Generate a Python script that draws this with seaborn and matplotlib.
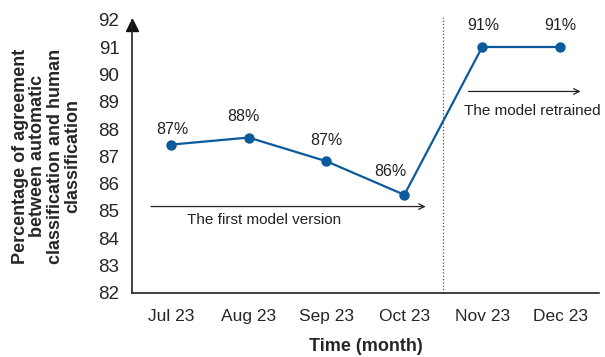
import pandas as pd
import matplotlib.pyplot as plt
import seaborn as sns

months = ["Jul 23", "Aug 23", "Sep 23", "Oct 23", "Nov 23", "Dec 23"]
agreement = [87.43, 87.69, 86.82, 85.59, 91.01, 91.01]
labels = ["87%", "88%", "87%", "86%", "91%", "91%"]

df = pd.DataFrame({"month": months, "agreement": agreement, "pos": range(len(months))})

sns.set_style("white")
plt.rcParams['font.family'] = ['Liberation Sans', 'DejaVu Sans']

fig, ax = plt.subplots(figsize=(6.05, 3.57), dpi=100)
blue = "#0b5a9c"
sns.lineplot(data=df, x="pos", y="agreement", color=blue, marker="o",
             markersize=7.5, markeredgewidth=0, linewidth=1.6, ax=ax)

# percentage labels above points (offsets in points)
offsets = [(1, 11), (-3.6, 15), (0, 15), (-10, 16.5), (0.5, 15.5), (0, 15.5)]
for i, (v, lab) in enumerate(zip(agreement, labels)):
    ax.annotate(lab, (i, v), xytext=offsets[i], textcoords="offset points",
                ha="center", va="center", fontsize=11.5, color="#222222")

# period arrows
ax.annotate("", xy=(3.31, 85.16), xytext=(-0.29, 85.16),
            arrowprops=dict(arrowstyle="->", color="#222222", lw=0.9))
ax.text(1.2, 84.65, "The first model version", ha="center", va="center", fontsize=11, color="#222222")
ax.annotate("", xy=(5.30, 89.38), xytext=(3.79, 89.38),
            arrowprops=dict(arrowstyle="->", color="#222222", lw=0.9))
ax.text(4.64, 88.68, "The model retrained", ha="center", va="center", fontsize=11, color="#222222")

# retraining boundary
ax.axvline(3.5, ymin=0, ymax=1.01, color="#555555", linestyle=":", linewidth=0.9, clip_on=False)

ax.set_xlim(-0.5, 5.5)
ax.set_ylim(82, 92)
ax.set_yticks(range(82, 93))
ax.set_xticks([i - 0.5 for i in range(len(months) + 1)])
ax.set_xticklabels([])
ax.set_xticks(range(len(months)), minor=True)
ax.set_xticklabels(months, minor=True, fontsize=12.5)
ax.tick_params(axis="x", which="major", direction="out", length=5, width=1.2, color="#222222")
ax.tick_params(axis="x", which="minor", length=0, pad=12)
ax.tick_params(axis="y", direction="out", length=5, width=1, color="#222222", labelsize=13.5, pad=4)

sns.despine(ax=ax)
for s in ["left", "bottom"]:
    ax.spines[s].set_linewidth(1.2)
    ax.spines[s].set_color("#222222")

# arrow head on the y axis
ax.plot(-0.5, 91.8, marker="^", markersize=8, color="#111111", clip_on=False)

ax.set_xlabel("Time (month)", fontsize=13, fontweight="bold", labelpad=10)
ax.set_ylabel("Percentage of agreement\nbetween automatic\nclassification and human\nclassification",
              fontsize=13, fontweight="bold", labelpad=12, linespacing=1.05)

plt.subplots_adjust(left=0.218, right=0.99, top=0.944, bottom=0.18)
plt.savefig("out.png", dpi=100)
